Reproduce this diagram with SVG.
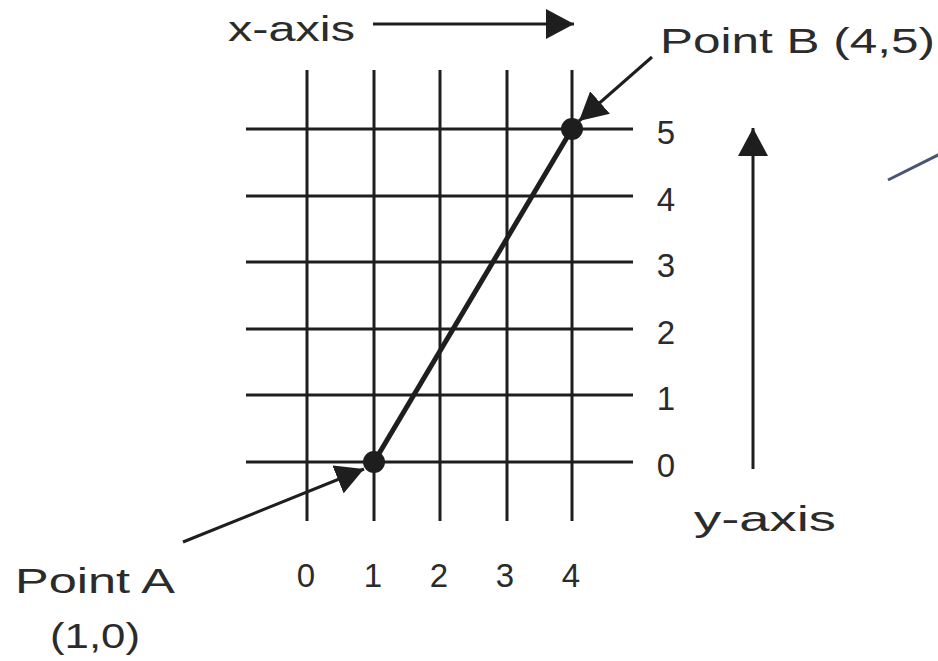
<svg xmlns="http://www.w3.org/2000/svg" width="938" height="661" viewBox="0 0 938 661">
<style>
.grid{stroke:#1e1e1e;stroke-width:3;fill:none}
.conn{stroke:#1e1e1e;stroke-width:3;fill:none}
.seg{stroke:#1e1e1e;stroke-width:5;fill:none}
.lbl{font-family:"Liberation Sans","Open Sans",sans-serif;font-size:35px;fill:#2b2b2b}
.num{font-family:"Liberation Sans","Open Sans",sans-serif;font-size:33px;fill:#2b2b2b;text-anchor:middle}
.dot{fill:#1e1e1e}
</style>
<defs>
<marker id="ahBig" viewBox="0 0 10 10" refX="10" refY="5" markerWidth="28" markerHeight="30" markerUnits="userSpaceOnUse" orient="auto" preserveAspectRatio="none">
<path d="M0,0 L10,5 L0,10 Z" fill="#1e1e1e"/>
</marker>
</defs>
<g id="grid">
<line class="grid" x1="307" y1="70" x2="307" y2="521"/>
<line class="grid" x1="374" y1="70" x2="374" y2="521"/>
<line class="grid" x1="440" y1="70" x2="440" y2="521"/>
<line class="grid" x1="507" y1="70" x2="507" y2="521"/>
<line class="grid" x1="572" y1="70" x2="572" y2="521"/>
<line class="grid" x1="246" y1="129" x2="633" y2="129"/>
<line class="grid" x1="246" y1="196" x2="633" y2="196"/>
<line class="grid" x1="246" y1="262" x2="633" y2="262"/>
<line class="grid" x1="246" y1="329" x2="633" y2="329"/>
<line class="grid" x1="246" y1="395" x2="633" y2="395"/>
<line class="grid" x1="246" y1="462" x2="633" y2="462"/>
</g>
<g id="x-labels">
<text class="num" x="306" y="587">0</text>
<text class="num" x="373" y="587">1</text>
<text class="num" x="439" y="587">2</text>
<text class="num" x="505" y="587">3</text>
<text class="num" x="571" y="587">4</text>
</g>
<g id="y-labels">
<text class="num" x="666" y="144">5</text>
<text class="num" x="666" y="211">4</text>
<text class="num" x="666" y="277">3</text>
<text class="num" x="666" y="344">2</text>
<text class="num" x="666" y="410">1</text>
<text class="num" x="666" y="477">0</text>
</g>
<g id="connectors">
<line class="seg" x1="374" y1="462" x2="572" y2="129"/>
<line class="conn" x1="373" y1="24" x2="574" y2="24" marker-end="url(#ahBig)"/>
<line class="conn" x1="753" y1="469" x2="753" y2="128" marker-end="url(#ahBig)"/>
<line class="conn" x1="652" y1="57" x2="579" y2="121" marker-end="url(#ahBig)"/>
<line class="conn" x1="183" y1="542" x2="364" y2="469" marker-end="url(#ahBig)"/>
<line x1="888" y1="180" x2="940" y2="154" stroke="#4a5576" stroke-width="3"/>
</g>
<g id="pointA">
<circle class="dot" cx="374" cy="462" r="11"/>
<text class="lbl" x="15" y="593" textLength="160" lengthAdjust="spacingAndGlyphs">Point A</text>
<text class="lbl" x="50" y="648" textLength="90" lengthAdjust="spacingAndGlyphs">(1,0)</text>
</g>
<g id="pointB">
<circle class="dot" cx="572" cy="129" r="11"/>
<text class="lbl" x="660" y="53" textLength="275" lengthAdjust="spacingAndGlyphs">Point B (4,5)</text>
</g>
<g id="x-axis">
<text class="lbl" x="228" y="41" textLength="127" lengthAdjust="spacingAndGlyphs">x-axis</text>
</g>
<g id="y-axis">
<text class="lbl" x="694" y="531" textLength="142" lengthAdjust="spacingAndGlyphs">y-axis</text>
</g>
</svg>
